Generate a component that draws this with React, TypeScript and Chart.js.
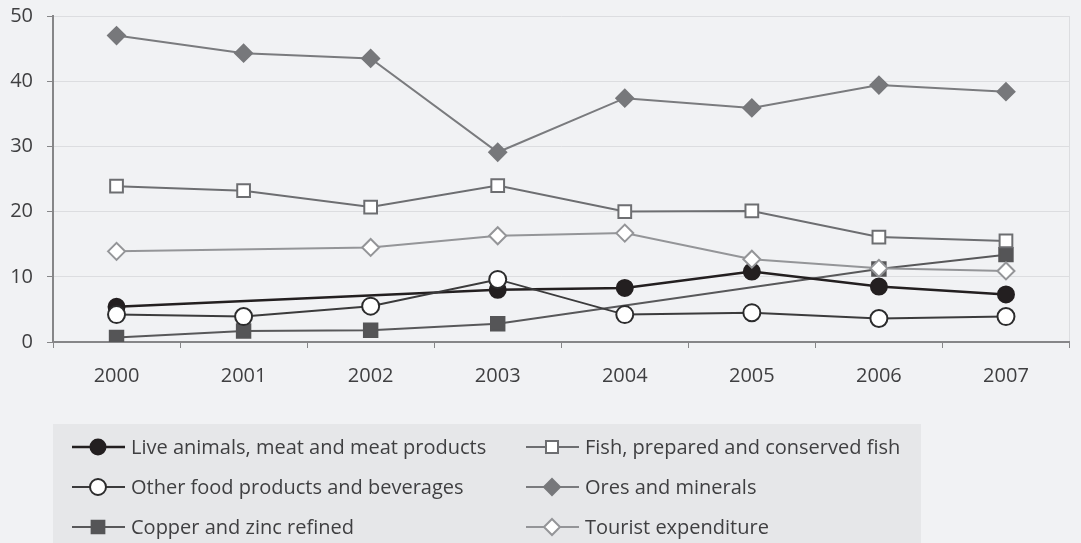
import React, { useEffect, useRef } from 'react';
import { Chart, registerables } from 'chart.js';

Chart.register(...registerables);

const years = ['2000', '2001', '2002', '2003', '2004', '2005', '2006', '2007'];
const liveAnimals = [5.4, null, null, 8.0, 8.3, 10.8, 8.5, 7.3];
const fishProducts = [23.9, 23.2, 20.7, 24.0, 20.0, 20.1, 16.1, 15.5];
const otherFood = [4.2, 3.9, 5.5, 9.6, 4.2, 4.5, 3.6, 3.9];
const oresMinerals = [47.0, 44.3, 43.5, 29.1, 37.4, 35.9, 39.4, 38.4];
const copperZinc = [0.7, 1.7, 1.8, 2.8, null, null, 11.2, 13.4];
const touristExp = [13.9, null, 14.5, 16.3, 16.7, 12.7, 11.3, 10.9];
const yTickValues = [0, 10, 20, 30, 40, 50];

const legendRows = [
  ['Live animals, meat and meat products', 'Fish, prepared and conserved fish'],
  ['Other food products and beverages', 'Ores and minerals'],
  ['Copper and zinc refined', 'Tourist expenditure'],
];

const FONT = "'Open Sans', 'Noto Sans', sans-serif";
const TEXT = '#3f3f41';
const AXIS = '#868688';
const GRID = '#dcdde0';

function drawMarker(ctx: CanvasRenderingContext2D, style: string, x: number, y: number, r: number) {
  ctx.beginPath();
  if (style === 'circle') {
    ctx.arc(x, y, r, 0, Math.PI * 2);
  } else if (style === 'rect') {
    const s = Math.SQRT1_2 * r;
    ctx.rect(x - s, y - s, 2 * s, 2 * s);
  } else if (style === 'rectRot') {
    ctx.moveTo(x, y - r);
    ctx.lineTo(x + r, y);
    ctx.lineTo(x, y + r);
    ctx.lineTo(x - r, y);
    ctx.closePath();
  }
  ctx.fill();
  ctx.stroke();
}

const bgPlugin = {
  id: 'bgFill',
  beforeDraw(chart: any) {
    const { ctx, width, height } = chart;
    ctx.save();
    ctx.fillStyle = '#f1f2f4';
    ctx.fillRect(0, 0, width, height);
    ctx.restore();
  },
};

const legendPlugin = {
  id: 'boxLegend',
  afterDraw(chart: any) {
    const { ctx, chartArea } = chart;
    const boxLeft = chartArea.left;
    const boxTop = chartArea.bottom + 82;
    ctx.save();
    ctx.fillStyle = '#e6e7e9';
    ctx.fillRect(boxLeft, boxTop, 868, 140);
    const colX = [boxLeft + 19, boxLeft + 473];
    ctx.font = `20px ${FONT}`;
    ctx.textBaseline = 'middle';
    legendRows.forEach((row, ri) => {
      const cy = boxTop + 23 + ri * 40;
      row.forEach((label, ci) => {
        const ds = chart.data.datasets.find((d: any) => d.label === label);
        if (!ds) return;
        const x0 = colX[ci];
        ctx.strokeStyle = ds.borderColor;
        ctx.lineWidth = ds.borderWidth;
        ctx.beginPath();
        ctx.moveTo(x0, cy);
        ctx.lineTo(x0 + 53, cy);
        ctx.stroke();
        ctx.fillStyle = ds.pointBackgroundColor;
        ctx.strokeStyle = ds.pointBorderColor;
        ctx.lineWidth = ds.pointBorderWidth;
        drawMarker(ctx, ds.pointStyle, x0 + 26, cy, ds.pointRadius - 0.5);
        ctx.fillStyle = TEXT;
        ctx.fillText(label, x0 + 59, cy + 1);
      });
    });
    ctx.restore();
  },
};

function series(label: string, data: (number | null)[], line: string, fill: string, border: string, style: string, radius: number, lw = 2) {
  return {
    label,
    data,
    borderColor: line,
    borderWidth: lw,
    pointBackgroundColor: fill,
    pointBorderColor: border,
    pointBorderWidth: 2,
    pointStyle: style,
    pointRadius: radius,
    pointHoverRadius: radius,
    spanGaps: true,
    tension: 0,
    fill: false,
  };
}

export default function App() {
  const canvasRef = useRef<HTMLCanvasElement | null>(null);

  useEffect(() => {
    if (!canvasRef.current) return;
    const chart = new Chart(canvasRef.current, {
      type: 'line',
      data: {
        labels: years,
        datasets: [
          series('Tourist expenditure', touristExp, '#949598', '#ffffff', '#949598', 'rectRot', 8.5),
          series('Other food products and beverages', otherFood, '#3b3b3c', '#ffffff', '#2c2c2d', 'circle', 8.5),
          series('Fish, prepared and conserved fish', fishProducts, '#6d6e71', '#ffffff', '#6d6e71', 'rect', 9),
          series('Ores and minerals', oresMinerals, '#7a7b7e', '#77787b', '#77787b', 'rectRot', 8.5),
          series('Live animals, meat and meat products', liveAnimals, '#231f20', '#231f20', '#231f20', 'circle', 8, 2.5),
          series('Copper and zinc refined', copperZinc, '#58585a', '#555557', '#555557', 'rect', 9.5),
        ] as any,
      },
      options: {
        animation: false,
        responsive: false,
        maintainAspectRatio: false,
        layout: { padding: { top: 16, left: 0, right: 10, bottom: 161 } },
        plugins: {
          legend: { display: false },
          tooltip: { enabled: false },
        },
        scales: {
          x: {
            type: 'category',
            offset: true,
            afterFit: (s: any) => { s.height = 40; s.paddingLeft = 0; s.paddingRight = 0; },
            grid: {
              offset: true,
              drawOnChartArea: true,
              color: (c: any) => (c.type === 'tick' && c.index < years.length ? 'rgba(0,0,0,0)' : GRID),
              tickColor: AXIS,
              tickLength: 6,
              lineWidth: 1,
            },
            border: { color: AXIS, width: 2 },
            ticks: {
              color: TEXT,
              font: { family: FONT, size: 20 },
              padding: 16,
              maxRotation: 0,
            },
          },
          y: {
            min: 0,
            max: 50,
            afterFit: (s: any) => { s.width = 53; s.paddingTop = 0; s.paddingBottom = 0; },
            afterBuildTicks: (s: any) => { s.ticks = yTickValues.map((v) => ({ value: v })); },
            grid: {
              color: GRID,
              tickColor: AXIS,
              tickLength: 6,
              lineWidth: 1,
            },
            border: { color: AXIS, width: 2 },
            ticks: {
              color: TEXT,
              font: { family: FONT, size: 20 },
              padding: 14,
            },
          },
        },
      },
      plugins: [bgPlugin, legendPlugin],
    });
    return () => chart.destroy();
  }, []);

  return (
    <div style={{ position: 'fixed', left: 0, top: 0, width: 1081, height: 543, background: '#f1f2f4' }}>
      <canvas ref={canvasRef} width={1081} height={543} style={{ display: 'block' }} />
    </div>
  );
}
